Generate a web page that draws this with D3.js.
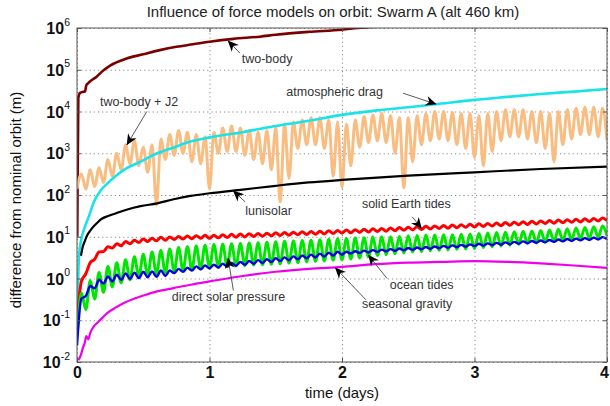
<!DOCTYPE html>
<html><head><meta charset="utf-8">
<script src="https://cdn.jsdelivr.net/npm/d3@7"></script>
<style>
body{margin:0;background:#fff}
svg{display:block}
text{font-family:"Liberation Sans",Arial,Helvetica,sans-serif}
</style>
</head><body>
<svg id="chart" width="610" height="406"></svg>
<script>
// ---------------- DATA (values in metres, time in days / hours) ----------------
const title = "Influence of force models on orbit: Swarm A (alt 460 km)";
const xLabel = "time (days)";
const yLabel = "difference from nominal orbit (m)";
const xTickValues = [0, 1, 2, 3, 4];
const yTickExponents = [-2, -1, 0, 1, 2, 3, 4, 5, 6];

// smooth series: sample times (days) and values (m)
const twoBodyDays = [0.002,0.005,0.008,0.01,0.023,0.045,0.06,0.07,0.085,0.11,0.148,0.186,0.25,0.374,0.5,0.625,0.75,0.876,1.0,1.18,1.38,1.5,1.75,2.0,2.12,2.5,4.0];
const twoBodyVals = [10,300,3300,21000,28000,29500,30000,42000,48000,56000,68000,89000,126000,186000,234000,295000,355000,407000,468000,550000,620000,690000,810000,912000,1000000,1170000,1800000];

const dragDays = [0.003,0.008,0.015,0.03,0.053,0.09,0.128,0.18,0.23,0.29,0.354,0.48,0.605,0.73,0.856,1.0,1.25,1.5,1.75,2.0,2.25,2.5,2.75,3.0,3.25,3.5,3.75,4.0];
const dragVals = [0.05,0.6,3.4,8,15,31,69,130,190,280,400,630,1000,1380,1900,2400,3200,4500,6000,8300,10500,12600,15500,19000,22400,26300,30000,34700];

const lunisolarDays = [0.03,0.045,0.053,0.078,0.1,0.128,0.155,0.18,0.23,0.3,0.38,0.48,0.605,0.73,0.856,1.0,1.25,1.5,1.75,2.0,2.5,3.0,3.5,4.0];
const lunisolarVals = [3.5,6,7,11,14,18,22,26,31,37,45,54,63,79,95,110,135,166,200,230,290,350,420,480];

const seasonalDays = [0.01,0.03,0.045,0.06,0.07,0.085,0.1,0.128,0.15,0.18,0.23,0.29,0.354,0.42,0.48,0.605,0.73,0.856,1.0,1.25,1.5,1.75,2.0,2.25,2.5,2.75,3.0,3.25,3.5,3.75,4.0];
const seasonalVals = [0.011,0.015,0.022,0.03,0.042,0.035,0.05,0.072,0.085,0.105,0.15,0.2,0.26,0.32,0.37,0.49,0.59,0.71,0.85,1.15,1.45,1.7,1.9,2.2,2.4,2.5,2.6,2.5,2.3,2.05,1.8];

// oscillating series: sampled every half orbit (hours)
const oscHours = [
 0,0.8,1.6,2.4,3.2,4,4.8,5.6,6.4,7.2,
 8,8.8,9.6,10.4,11.2,12,12.8,13.6,14.4,15.2,
 16,16.8,17.6,18.4,19.2,20,20.8,21.6,22.4,23.2,
 24,24.8,25.6,26.4,27.2,28,28.8,29.6,30.4,31.2,
 32,32.8,33.6,34.4,35.2,36,36.8,37.6,38.4,39.2,
 40,40.8,41.6,42.4,43.2,44,44.8,45.6,46.4,47.2,
 48,48.8,49.6,50.4,51.2,52,52.8,53.6,54.4,55.2,
 56,56.8,57.6,58.4,59.2,60,60.8,61.6,62.4,63.2,
 64,64.8,65.6,66.4,67.2,68,68.8,69.6,70.4,71.2,
 72,72.8,73.6,74.4,75.2,76,76.8,77.6,78.4,79.2,
 80,80.8,81.6,82.4,83.2,84,84.8,85.6,86.4,87.2,
 88,88.8,89.6,90.4,91.2,92,92.8,93.6,94.4,95.2,
 96];

const j2Vals = [
 140,320,140,400,160,450,200,710,280,1000,
 400,1600,560,2000,500,1400,350,1600,58,2200,
 710,2800,890,3500,1000,3200,630,2800,560,2500,
 140,3200,1000,4000,1100,4500,1100,4000,890,3500,
 710,3200,560,3500,400,4000,69,5000,250,5600,
 1300,6300,1600,7100,1600,7100,1300,6300,280,5600,
 150,5000,500,6300,1400,7600,1800,8300,2000,8900,
 1800,7900,1000,7100,150,7100,630,7900,1600,8900,
 2000,10000,2200,10000,2000,9500,1600,8900,1300,8900,
 790,7900,500,8900,1100,10000,2000,11000,2500,11000,
 2500,11000,2200,10000,1800,10000,1300,8900,630,10000,
 1600,11000,2200,12000,2800,12600,2800,12600,2500,12000,
 2000];

const solidTideVals = [
 0.1,0.85,1.3,2.4,2.9,4.3,4.4,5.8,5.4,6.8,
 6.1,7.7,6.8,8.2,7.3,8.8,7.7,9.2,8.0,9.7,
 8.2,9.9,8.6,10.1,8.8,10.4,9.0,10.6,9.2,10.8,
 9.2,10.9,9.4,11.1,9.6,11.4,9.75,11.6,9.9,11.8,
 10.1,12.0,10.3,12.2,10.5,12.4,10.7,12.7,10.9,12.9,
 11.1,13.2,11.3,13.4,11.5,13.6,11.7,13.9,11.9,14.2,
 12.2,14.5,12.4,14.8,12.7,15.1,13.0,15.5,13.3,15.8,
 13.6,16.2,14.0,16.6,14.3,17.0,14.6,17.4,15.0,17.8,
 15.3,18.2,15.7,18.6,16.0,19.1,16.4,19.5,16.8,20.0,
 17.2,20.4,17.6,20.9,18.0,21.4,18.4,21.9,18.8,22.4,
 19.3,22.9,19.7,23.4,20.2,24.0,20.7,24.5,21.1,25.1,
 21.6,25.7,22.1,26.3,22.6,26.9,23.2,27.5,23.7,28.2,
 24.3];

const solarPressureVals = [
 0.04,0.45,0.18,0.89,0.32,1.4,0.47,1.95,0.63,2.4,
 0.79,2.8,0.93,3.3,1.07,3.8,1.17,4.3,1.26,4.7,
 1.35,5.1,1.48,5.5,1.55,5.8,1.62,6.0,1.7,6.3,
 1.78,6.5,1.86,6.6,1.9,6.8,2.0,6.9,2.04,7.1,
 2.1,7.2,2.14,7.4,2.2,7.6,2.24,7.8,2.34,7.9,
 2.4,8.1,2.5,8.3,2.57,8.5,2.63,8.7,2.75,8.9,
 2.8,9.1,2.95,9.3,3.1,9.5,3.3,9.8,3.5,10,
 3.7,10,3.9,10.2,4.1,10.5,4.3,10.7,4.4,11,
 4.6,11,4.7,11.2,4.8,11.2,5.0,11.5,5.1,11.7,
 5.2,12,5.5,12.3,5.8,12.6,6.0,12.9,6.3,13.2,
 6.6,13.5,6.9,13.8,7.1,14.1,7.4,14.5,7.8,15.1,
 8.1,15.5,8.5,16.2,8.9,16.6,9.3,17.4,9.8,18.2,
 10.7];

const oceanTideVals = [
 0.025,0.33,0.38,0.66,0.58,0.93,0.76,1.12,0.85,1.23,
 0.93,1.32,0.98,1.38,1.02,1.45,1.07,1.48,1.1,1.55,
 1.15,1.55,1.35,1.7,1.45,1.82,1.55,1.95,1.66,2.04,
 1.74,2.14,1.83,2.25,1.92,2.37,2.02,2.49,2.13,2.62,
 2.24,2.76,2.36,2.9,2.48,3.05,2.61,3.21,2.74,3.38,
 2.88,3.56,3.03,3.74,3.19,3.94,3.36,4.14,3.53,4.36,
 3.72,4.38,3.96,4.51,4.07,4.65,4.2,4.78,4.32,4.92,
 4.45,5.06,4.58,5.21,4.71,5.37,4.85,5.52,4.99,5.69,
 5.14,5.85,5.3,6.03,5.45,6.21,5.61,6.38,5.78,6.58,
 5.96,6.78,6.11,6.95,6.28,7.14,6.44,7.33,6.62,7.52,
 6.79,7.73,6.97,7.93,7.16,8.15,7.35,8.36,7.55,8.57,
 7.74,8.81,7.94,9.04,8.17,9.29,8.38,9.53,8.61,9.77,
 8.81];

// annotation labels: text anchor (day, m), arrow tail and tip (day, m)
const annLabels = ["two-body","atmospheric drag","two-body + J2","lunisolar","solid Earth tides","direct solar pressure","ocean tides","seasonal gravity"];
const annTextAt = [[1.243,1.7e5],[1.58,2.75e4],[0.173,1.6e4],[1.27,39],[2.15,58],[0.716,0.34],[2.36,0.69],[2.15,0.23]];
const annTail   = [[1.23,2.5e5],[2.46,2.75e4],[0.527,1.0e4],[1.27,68],[2.53,30],[1.18,0.52],[2.34,1.0],[2.18,0.31]];
const annTip    = [[1.14,4.9e5],[2.71,1.5e4],[0.377,1.6e3],[1.18,126],[2.6,16],[1.14,3.1],[2.2,3.6],[1.95,1.8]];

// ---------------- CHART ----------------
const m = {l:77, r:607, t:28, b:362};
const svg = d3.select("#chart");
const x = d3.scaleLinear().domain([0,4]).range([m.l, m.r]);
const y = d3.scaleLog().domain([1e-2,1e6]).range([m.b, m.t]);
const yTickVals = yTickExponents.map(e => Math.pow(10, e));
const FONT = '"Liberation Sans",Arial,sans-serif';

const defs = svg.append("defs");
defs.append("clipPath").attr("id","plotclip")
  .append("rect").attr("x",m.l).attr("y",m.t).attr("width",m.r-m.l).attr("height",m.b-m.t);
defs.append("marker").attr("id","arrowhead").attr("viewBox","0 0 10 10")
  .attr("refX",9.5).attr("refY",5).attr("markerWidth",12).attr("markerHeight",11)
  .attr("markerUnits","userSpaceOnUse").attr("orient","auto")
  .append("path").attr("d","M0,0.5 L10,5 L0,9.5 L3,5 Z").attr("fill","#000");

// grid
const gridG = svg.append("g");
gridG.append("g").attr("transform",`translate(0,${m.b})`)
  .call(d3.axisBottom(x).tickValues(xTickValues).tickSize(-(m.b-m.t)).tickFormat(""))
  .call(g => g.select(".domain").remove());
gridG.append("g").attr("transform",`translate(${m.l},0)`)
  .call(d3.axisLeft(y).tickValues(yTickVals).tickSize(-(m.r-m.l)).tickFormat(""))
  .call(g => g.select(".domain").remove());
gridG.selectAll("line").attr("stroke","#8a8a8a").attr("stroke-width",1).attr("stroke-dasharray","1.2,3");

// series
const hoursToDays = h => h / 24;
const series = [
  {days: twoBodyDays, vals: twoBodyVals, color:"#7a0000", w:2.6},
  {days: oscHours.map(hoursToDays), vals: j2Vals, color:"#f9bd82", w:3},
  {days: dragDays, vals: dragVals, color:"#19e3e8", w:2.6},
  {days: lunisolarDays, vals: lunisolarVals, color:"#000000", w:2.2},
  {days: oscHours.map(hoursToDays), vals: solidTideVals, color:"#ff0000", w:3},
  {days: oscHours.map(hoursToDays), vals: solarPressureVals, color:"#00e600", w:3},
  {days: oscHours.map(hoursToDays), vals: oceanTideVals, color:"#0000e6", w:2.4},
  {days: seasonalDays, vals: seasonalVals, color:"#ee00ee", w:2.2}
];
const plotG = svg.append("g").attr("clip-path","url(#plotclip)");
series.forEach(s => {
  const pts = s.days.map((d,i) => [d, s.vals[i]]);
  const line = d3.line().x(p => x(p[0])).y(p => y(p[1])).curve(d3.curveMonotoneX);
  plotG.append("path").attr("d", line(pts)).attr("fill","none")
    .attr("stroke", s.color).attr("stroke-width", s.w).attr("stroke-linejoin","round");
});

// frame
svg.append("rect").attr("x",m.l).attr("y",m.t).attr("width",m.r-m.l).attr("height",m.b-m.t)
  .attr("fill","none").attr("stroke","#555").attr("stroke-width",1);

// axes ticks (inward) + labels
const xAxisG = svg.append("g").attr("transform",`translate(0,${m.b})`)
  .call(d3.axisBottom(x).tickValues(xTickValues).tickSizeInner(-4).tickSizeOuter(0).tickPadding(6).tickFormat(d3.format("d")));
xAxisG.select(".domain").remove();
xAxisG.selectAll("line").attr("stroke","#555");
xAxisG.selectAll("text").attr("font-size",16).attr("font-weight","bold").attr("fill","#111").attr("dy","0.6em")
  .attr("font-family",FONT)
  .attr("dx", d => d === xTickValues[xTickValues.length-1] ? -3 : 0);

const xTopG = svg.append("g").attr("transform",`translate(0,${m.t})`)
  .call(d3.axisTop(x).tickValues(xTickValues).tickSizeInner(-4).tickSizeOuter(0).tickFormat(""));
xTopG.select(".domain").remove(); xTopG.selectAll("line").attr("stroke","#555");
const yRightG = svg.append("g").attr("transform",`translate(${m.r},0)`)
  .call(d3.axisRight(y).tickValues(yTickVals).tickSizeInner(-4).tickSizeOuter(0).tickFormat(""));
yRightG.select(".domain").remove(); yRightG.selectAll("line").attr("stroke","#555");

const yAxisG = svg.append("g").attr("transform",`translate(${m.l},0)`)
  .call(d3.axisLeft(y).tickValues(yTickVals).tickSizeInner(-4).tickSizeOuter(0).tickPadding(8).tickFormat(""));
yAxisG.select(".domain").remove();
yAxisG.selectAll("line").attr("stroke","#555");
yAxisG.selectAll(".tick text").each(function(d){
  const e = Math.round(Math.log10(d));
  const t = d3.select(this).attr("font-size",16).attr("font-weight","bold").attr("fill","#111").attr("x",-7).attr("dy","0.35em")
     .attr("text-anchor","end").attr("font-family",FONT);
  t.text(null);
  t.append("tspan").text("10");
  t.append("tspan").attr("font-size",10.5).attr("font-weight","normal").attr("dy","-0.8em").text(String(e));
});

// titles
svg.append("text").attr("x",333).attr("y",13).attr("text-anchor","middle").attr("dominant-baseline","middle")
  .attr("font-size",15).attr("fill","#222").text(title);
svg.append("text").attr("x",342).attr("y",394).attr("text-anchor","middle").attr("dominant-baseline","middle")
  .attr("font-size",15).attr("fill","#111").text(xLabel);
svg.append("text").attr("transform","translate(17,200) rotate(-90)").attr("text-anchor","middle")
  .attr("dominant-baseline","middle").attr("font-size",15).attr("fill","#111").text(yLabel);

// annotations
const annG = svg.append("g");
annLabels.forEach((lab,i) => {
  annG.append("line")
    .attr("x1",x(annTail[i][0])).attr("y1",y(annTail[i][1]))
    .attr("x2",x(annTip[i][0])).attr("y2",y(annTip[i][1]))
    .attr("stroke","#444").attr("stroke-width",0.9).attr("marker-end","url(#arrowhead)");
  annG.append("text").attr("x",x(annTextAt[i][0])).attr("y",y(annTextAt[i][1]))
    .attr("dominant-baseline","middle").attr("font-size",12.5).attr("fill","#333").text(lab);
});
</script>
</body></html>
